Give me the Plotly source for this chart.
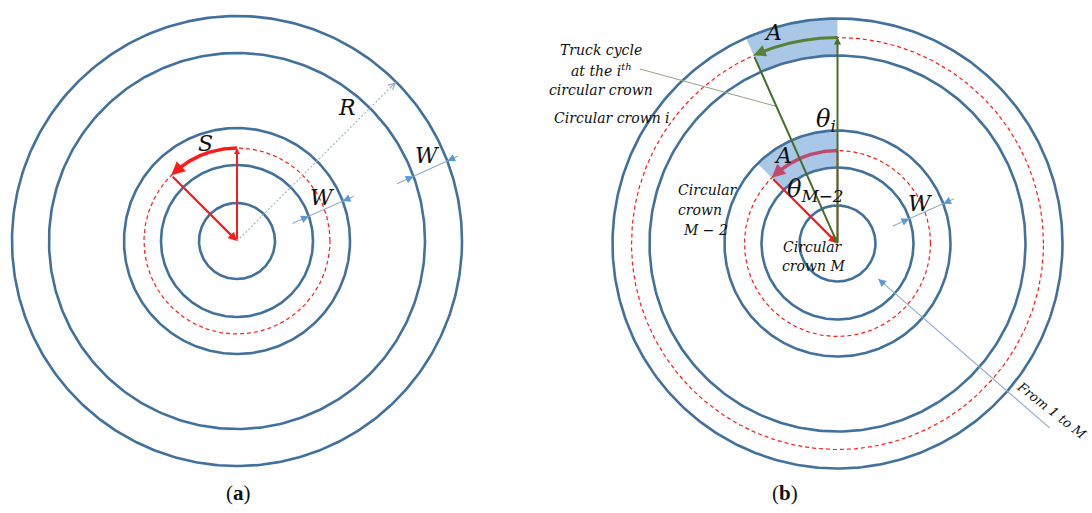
import numpy as np
import plotly.graph_objects as go

# ---- geometry of the two panels (pixel space, y grows downward) ----
CENTER_A = (237.0, 241.0)
CENTER_B = (837.5, 243.5)
RING_RADII = [38, 76, 113, 188, 225]          # solid crown boundaries
DASHED_A = [93]                                # truck path, panel (a)
DASHED_B = [93, 206]                           # truck paths, panel (b)

# sectors: (inner radius, outer radius, start deg, end deg)
SECTORS_B = [(76, 113, 90, 135), (188, 225, 90, 114)]
# arcs: (radius, start deg, end deg)
ARC_S = (93, 90, 135)
ARC_M2 = (93, 90, 135)
ARC_I = (206, 90, 114)
R_ANGLE = 45                                   # direction of the R dimension
W_DIMS_A = [(76, 113, 20), (188, 225, 20.5)]   # (r_in, r_out, polar deg)
W_DIMS_B = [(76, 113, 20)]
FROM_ANGLE = -41                               # "From 1 to M" pointer direction

BLUE = "#41719C"
RED = "#FF1A1A"
CRIMSON = "#BF4A6D"
GREEN_ARC = "#558235"
GREEN = "#466E2B"
SHADE = "#A9C7E6"
DIM = "#8FAACB"
DIM_HEAD = "#5B9BD5"
SERIF = "DejaVu Serif"


def pt(c, r, deg):
    a = np.deg2rad(deg)
    return c[0] + r * np.cos(a), c[1] - r * np.sin(a)


def arc_xy(c, r, d0, d1, n=200):
    t = np.deg2rad(np.linspace(d0, d1, n))
    return c[0] + r * np.cos(t), c[1] - r * np.sin(t)


fig = go.Figure()
ann = []


def add_line(xs, ys, color, width, dash="solid"):
    fig.add_trace(go.Scatter(x=list(xs), y=list(ys), mode="lines",
                             line=dict(color=color, width=width, dash=dash),
                             hoverinfo="skip", showlegend=False))


def arrow(head, tail, color, width, size=1.0, style=2):
    ann.append(dict(x=head[0], y=head[1], ax=tail[0], ay=tail[1],
                    xref="x", yref="y", axref="x", ayref="y", text="",
                    showarrow=True, arrowhead=style, arrowsize=size,
                    arrowwidth=width, arrowcolor=color, standoff=0,
                    startstandoff=0))


def label(txt, x, y, size=22, xanchor="center", angle=0, family=SERIF,
          italic=True):
    ann.append(dict(x=x, y=y, xref="x", yref="y", text=txt, showarrow=False,
                    xanchor=xanchor, yanchor="middle", textangle=angle,
                    font=dict(family=family, size=size, color="#111111",
                              style="italic" if italic else "normal")))


# ---- shaded sectors (panel b) ----
for r0, r1, d0, d1 in SECTORS_B:
    xo, yo = arc_xy(CENTER_B, r1, d0, d1)
    xi, yi = arc_xy(CENTER_B, r0, d1, d0)
    fig.add_trace(go.Scatter(x=np.r_[xo, xi], y=np.r_[yo, yi], fill="toself",
                             fillcolor=SHADE, line=dict(width=0), mode="lines",
                             hoverinfo="skip", showlegend=False))

# ---- rings ----
for c, dashed in ((CENTER_A, DASHED_A), (CENTER_B, DASHED_B)):
    for r in RING_RADII:
        add_line(*arc_xy(c, r, 0, 360, 400), BLUE, 2.6)
    for r in dashed:
        add_line(*arc_xy(c, r, 0, 360, 400), RED, 1.2, dash="4px,3px")


def dimension(c, r_in, r_out, deg):
    # straight, slightly tilted dimension line crossing two rings
    mid = np.array(pt(c, (r_in + r_out) / 2, deg))
    u = np.array([np.cos(np.deg2rad(deg + 4)), -np.sin(np.deg2rad(deg + 4))])
    d = mid - np.array(c)

    def hit(r):
        b = 2 * d.dot(u)
        k = d.dot(d) - r * r
        s = np.sqrt(b * b - 4 * k)
        roots = [(-b + s) / 2, (-b - s) / 2]
        return min(roots, key=abs)

    t_in, t_out = hit(r_in), hit(r_out)
    p0, p1 = mid + (t_in - 18) * u, mid + (t_out + 12) * u
    add_line([p0[0], p1[0]], [p0[1], p1[1]], DIM, 1.1)
    arrow(tuple(mid + t_in * u), tuple(mid + (t_in - 8) * u), DIM_HEAD, 1.2, 1.3, 2)
    arrow(tuple(mid + t_out * u), tuple(mid + (t_out + 8) * u), DIM_HEAD, 1.2, 1.3, 2)


# ---- panel (a) ----
for r0, r1, d in W_DIMS_A:
    dimension(CENTER_A, r0, r1, d)
rx, ry = pt(CENTER_A, RING_RADII[-1], R_ANGLE)
add_line([CENTER_A[0], rx], [CENTER_A[1], ry], "#9AAFC8", 1.1, dash="2px,2px")
arrow((rx, ry), pt(CENTER_A, RING_RADII[-1] - 10, R_ANGLE), "#9AAFC8", 1.1, 1.2, 5)

r, d0, d1 = ARC_S
add_line(*arc_xy(CENTER_A, r, d0, d1 - 4), RED, 3.5)
arrow(pt(CENTER_A, r, d1), pt(CENTER_A, r, d1 - 6), RED, 3, 0.9, 2)
arrow(pt(CENTER_A, r, d0), CENTER_A, RED, 2, 0.6, 2)
arrow(CENTER_A, pt(CENTER_A, r, d1), RED, 2.2, 0.8, 2)

label("S", 205, 143)
label("R", 347, 107)
label("W", 322, 197)
label("W", 427, 155)

# ---- panel (b) ----
for r0, r1, d in W_DIMS_B:
    dimension(CENTER_B, r0, r1, d)

fx0, fy0 = pt(CENTER_B, 54, FROM_ANGLE)
fx1, fy1 = pt(CENTER_B, 281, FROM_ANGLE)
add_line([fx0, fx1], [fy0, fy1], DIM, 1.1)
arrow((fx0, fy0), pt(CENTER_B, 64, FROM_ANGLE), DIM_HEAD, 1.2, 1.3, 2)

# inner crown (M-2)
r, d0, d1 = ARC_M2
add_line([CENTER_B[0], pt(CENTER_B, r, d0)[0]],
         [CENTER_B[1], pt(CENTER_B, r, d0)[1]], "#C07070", 2)
add_line(*arc_xy(CENTER_B, r, d0, d1 - 4), CRIMSON, 3.5)
arrow(pt(CENTER_B, r, d1), pt(CENTER_B, r, d1 - 6), CRIMSON, 3, 0.9, 2)
arrow(CENTER_B, pt(CENTER_B, r, d1), RED, 2.2, 0.8, 2)

# i-th crown
r, d0, d1 = ARC_I
add_line(*arc_xy(CENTER_B, r, d0, d1 - 2), GREEN_ARC, 3)
arrow(pt(CENTER_B, r, d1), pt(CENTER_B, r, d1 - 3), GREEN_ARC, 3, 0.8, 2)
arrow(pt(CENTER_B, r, d0), CENTER_B, GREEN, 2, 0.7, 2)
arrow(CENTER_B, pt(CENTER_B, r, d1), GREEN, 2, 0.6, 2)

# leader from the caption to the i-th cycle
lx, ly = pt(CENTER_B, 150, ARC_I[2])
add_line([640, lx], [69, ly], "#92A286", 1)

label("A", 773, 32)
label("θ<sub>i</sub>", 826, 120, size=24)
label("A", 783, 155)
label("θ<sub>M−2</sub>", 815, 190, size=24)
label("W", 920, 203)

for txt, y in (("Truck cycle", 50), ("at the i<sup>th</sup>", 70),
               ("circular crown", 90)):
    label(txt, 601, y, size=14)
label("Circular crown i", 612, 118, size=14)
label("Circular", 676, 190, size=14, xanchor="left")
label("crown", 676, 210, size=14, xanchor="left")
label("M − 2", 681, 230, size=14, xanchor="left")
label("Circular", 813, 247, size=14)
label("crown M", 813, 266, size=14)
label("From 1 to M", 1052, 410, size=13, angle=38)

label("(<b>a</b>)", 238, 493, size=21, family="Liberation Serif", italic=False)
label("(<b>b</b>)", 785, 493, size=21, family="Liberation Serif", italic=False)

fig.update_layout(
    width=1092, height=513, margin=dict(l=0, r=0, t=0, b=0),
    paper_bgcolor="white", plot_bgcolor="white", annotations=ann,
    xaxis=dict(range=[0, 1092], visible=False, fixedrange=True),
    yaxis=dict(range=[513, 0], visible=False, fixedrange=True),
)
fig.write_html("out.html", config={"displayModeBar": False})
